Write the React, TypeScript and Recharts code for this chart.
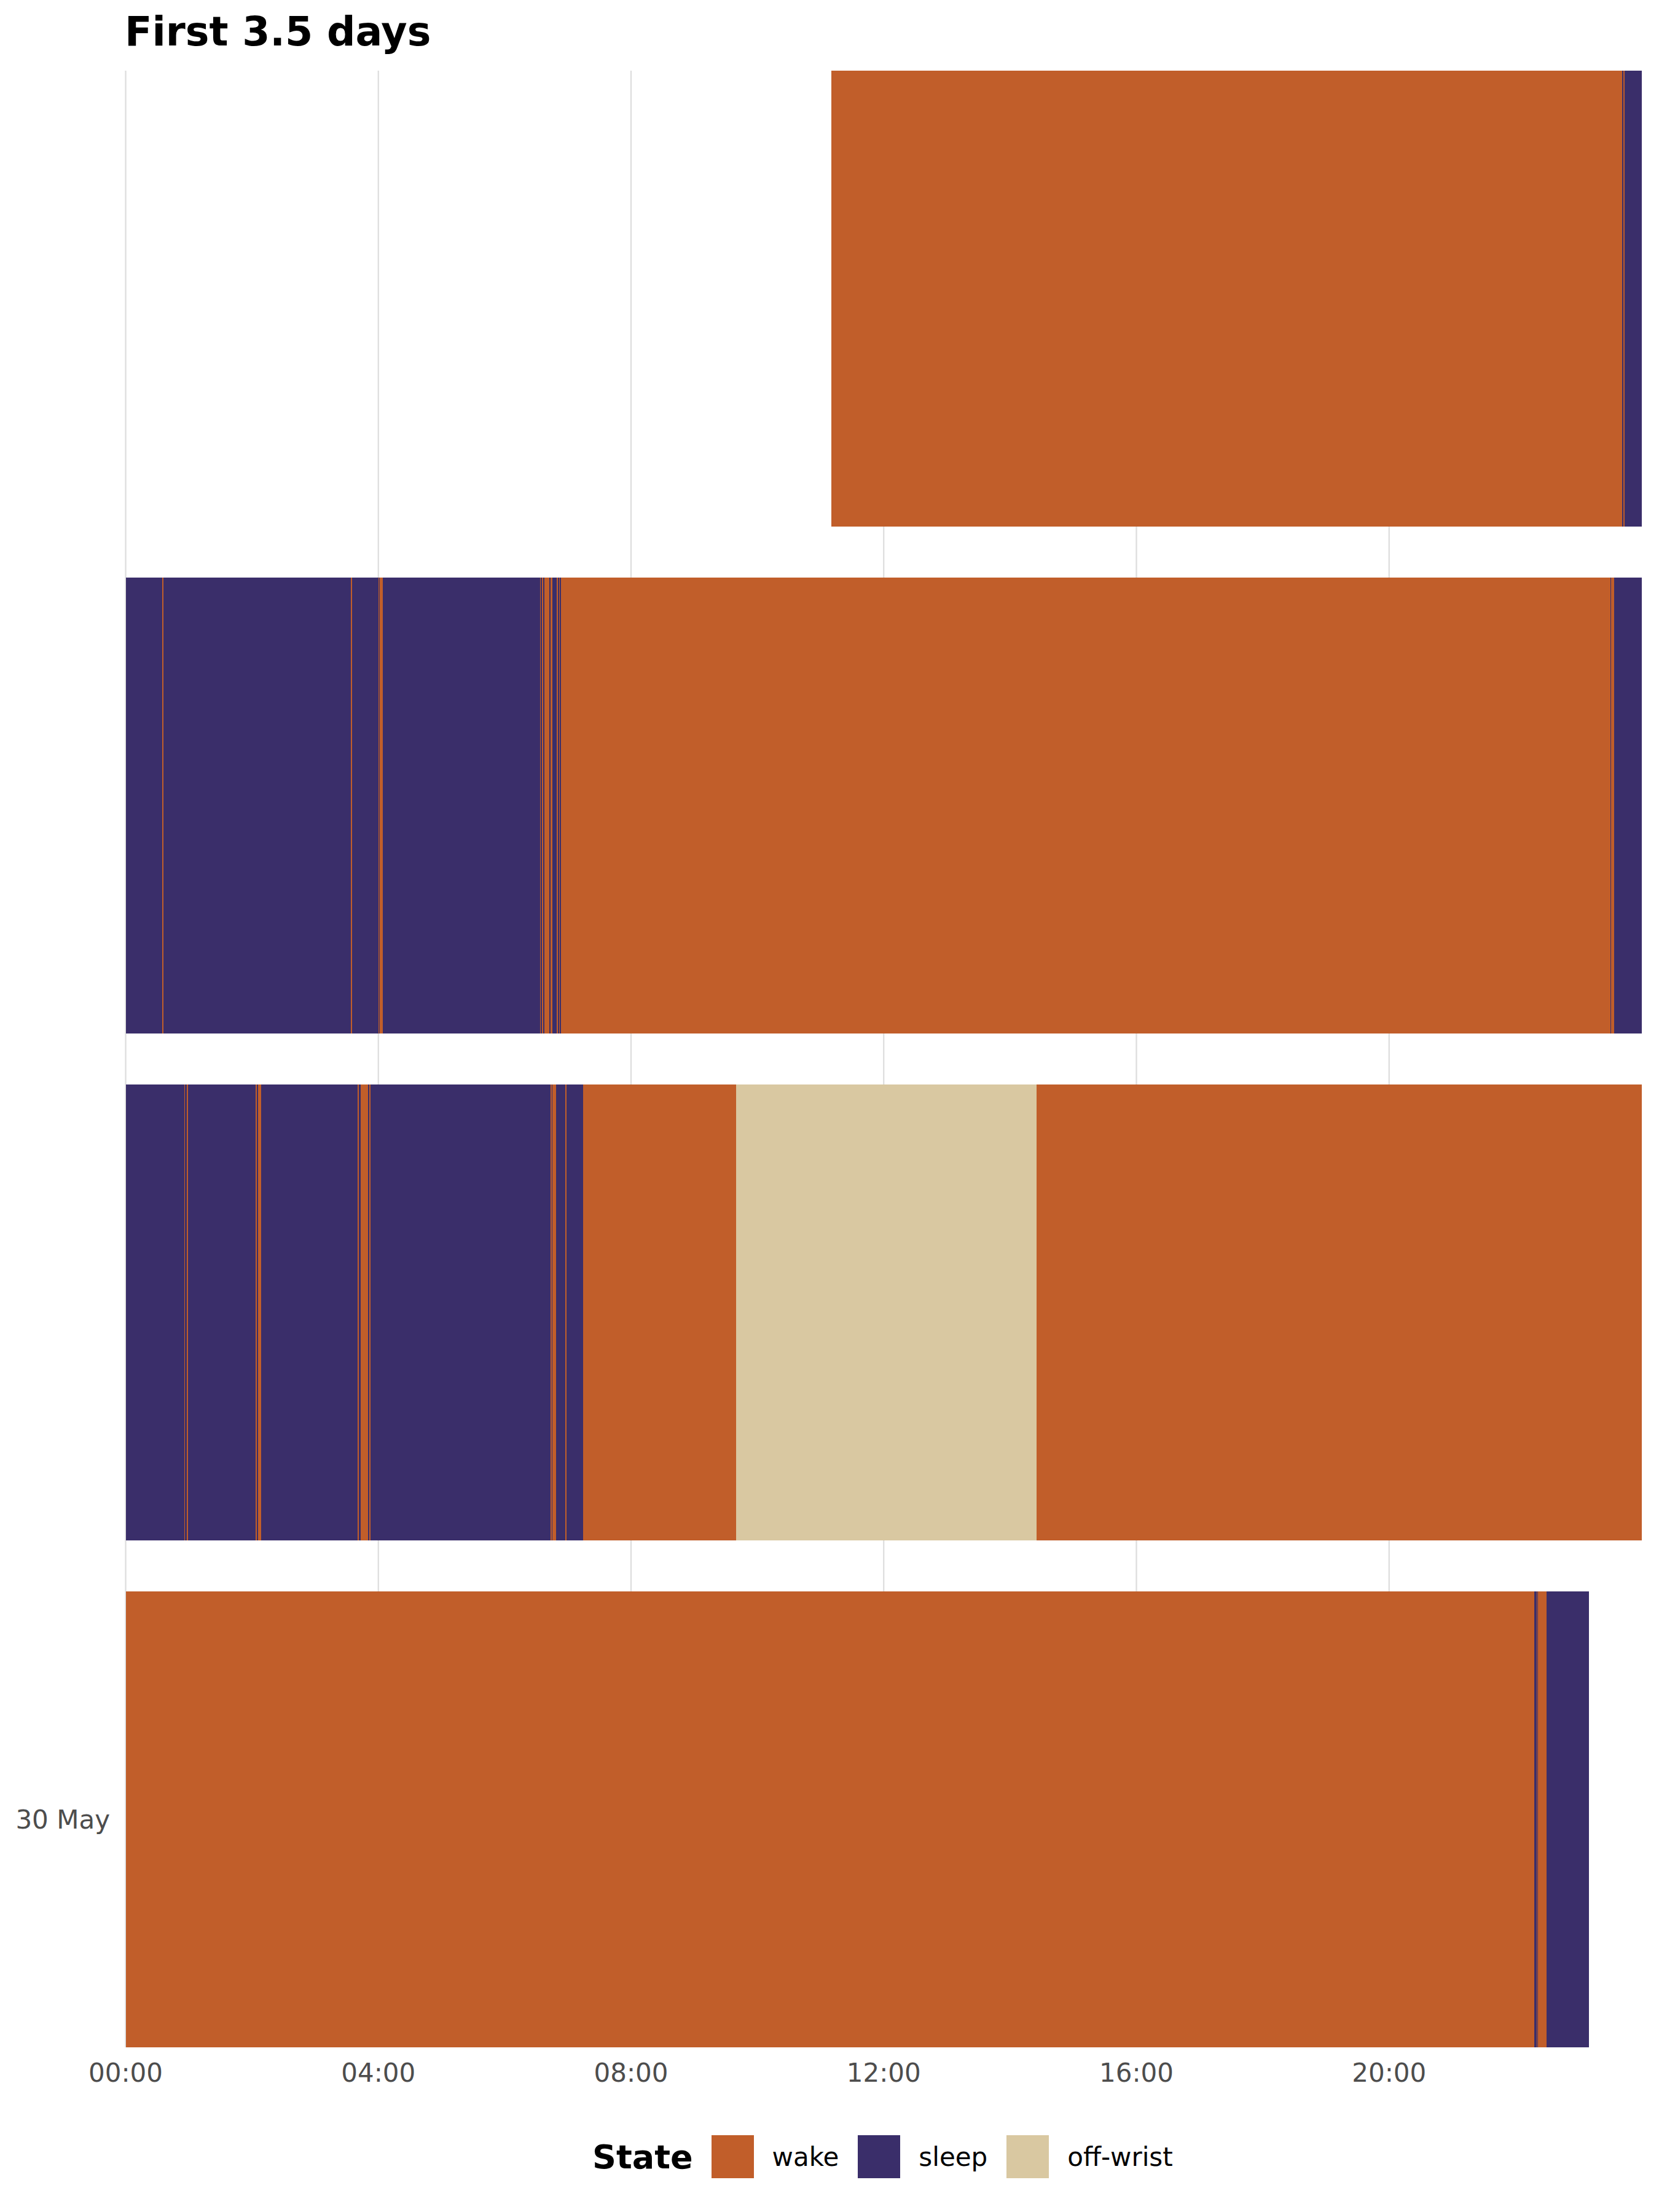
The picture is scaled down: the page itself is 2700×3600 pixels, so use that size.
import { BarChart, Bar, XAxis, YAxis, CartesianGrid, Cell, Legend } from 'recharts';

const FONT = '"DejaVu Sans", Verdana, sans-serif';

const days = ['27 May', '28 May', '29 May', '30 May'];
const labelledDays = ['30 May'];
const hourTicks = [0, 240, 480, 720, 960, 1200];

const stateNames = ['wake', 'sleep', 'off-wrist'];
const stateColors = ['#C15E2A', '#3A2E6A', '#D9C8A1'];

// change points in minutes after midnight, last value = end of the record that day
const day1Times = [670, 1421.5, 1422.5, 1423.5, 1440];
const day1States = ['wake', 'sleep', 'wake', 'sleep'];

const day2Times = [0, 35, 36, 214, 215, 240, 241, 241.5, 244, 393.5, 394.5, 395.5, 396.5, 397.5, 402.5, 403.5, 405.5, 409.5, 410.5, 412, 412.5, 413.5, 1410, 1411, 1414, 1440];
const day2States = ['sleep', 'wake', 'sleep', 'wake', 'sleep', 'wake', 'sleep', 'wake', 'sleep', 'wake', 'sleep', 'wake', 'sleep', 'wake', 'sleep', 'wake', 'sleep', 'wake', 'sleep', 'wake', 'sleep', 'wake', 'sleep', 'wake', 'sleep'];

const day3Times = [0, 55.5, 56.5, 58, 59.5, 123.5, 124.5, 125.5, 128.5, 220.5, 221.5, 223, 230, 231.5, 232.5, 403.5, 404.5, 405.5, 409, 417.5, 419, 434.5, 580, 865, 1440];
const day3States = ['sleep', 'wake', 'sleep', 'wake', 'sleep', 'wake', 'sleep', 'wake', 'sleep', 'wake', 'sleep', 'wake', 'sleep', 'wake', 'sleep', 'wake', 'sleep', 'wake', 'sleep', 'wake', 'sleep', 'wake', 'off-wrist', 'wake'];

const day4Times = [0, 1338, 1340, 1341, 1341.5, 1349.5, 1390];
const day4States = ['wake', 'sleep', 'wake', 'sleep', 'wake', 'sleep'];

const allTimes = [day1Times, day2Times, day3Times, day4Times];
const allStates = [day1States, day2States, day3States, day4States];

type Seg = { len: number; state: string | null };

function segmentsOf(times: number[], states: string[]): Seg[] {
  const segs: Seg[] = [];
  if (times[0] > 0) segs.push({ len: times[0], state: null }); // nothing recorded yet
  states.forEach((s, i) => segs.push({ len: times[i + 1] - times[i], state: s }));
  return segs;
}

const rowSegs = allTimes.map((t, i) => segmentsOf(t, allStates[i]));
const maxSegs = Math.max(...rowSegs.map((s) => s.length));

const data = days.map((day, r) => {
  const row: Record<string, any> = { day };
  rowSegs[r].forEach((s, i) => {
    row[`s${i}`] = s.len;
  });
  return row;
});

const colorOf = (state: string | null | undefined) =>
  state ? stateColors[stateNames.indexOf(state)] : 'none';

const clock = (m: number) =>
  `${String(Math.floor(m / 60)).padStart(2, '0')}:${String(m % 60).padStart(2, '0')}`;

function StateLegend() {
  return (
    <div style={{ display: 'flex', alignItems: 'center', height: 70, fontFamily: FONT }}>
      <span style={{ fontSize: 54, fontWeight: 'bold', color: '#000', marginRight: 30 }}>State</span>
      {stateNames.map((name, i) => (
        <div key={name} style={{ display: 'flex', alignItems: 'center' }}>
          <div style={{ width: 69, height: 70, background: stateColors[i], marginRight: 30 }} />
          <span style={{ fontSize: 42, color: '#000', marginRight: 31 }}>{name}</span>
        </div>
      ))}
    </div>
  );
}

export default function App() {
  return (
    <div style={{ position: 'absolute', left: 0, top: 0, width: 2700, height: 3600, background: '#fff', fontFamily: FONT }}>
      <div style={{ position: 'absolute', left: 203, top: 19, fontSize: 65, lineHeight: '65px', fontWeight: 'bold', color: '#000' }}>
        First 3.5 days
      </div>
      <BarChart
        width={2700}
        height={3600}
        data={data}
        layout="vertical"
        barCategoryGap={41.5}
        margin={{ top: 115, right: 28, bottom: 208, left: 0 }}
        style={{ fontFamily: FONT }}
      >
        <CartesianGrid horizontal={false} verticalValues={hourTicks} stroke="#DEDEDE" strokeWidth={2.3} />
        <XAxis
          type="number"
          domain={[0, 1440]}
          ticks={hourTicks}
          tickFormatter={clock}
          axisLine={false}
          tickLine={false}
          tickSize={0}
          tickMargin={26}
          height={60}
          tick={{ fontSize: 42, fill: '#4D4D4D', fontFamily: FONT }}
        />
        <YAxis
          type="category"
          dataKey="day"
          width={204.5}
          axisLine={false}
          tickLine={false}
          tickSize={0}
          tickMargin={25.5}
          padding={{ top: -41.5, bottom: -41.5 }}
          tickFormatter={(v: string) => (labelledDays.includes(v) ? v : '')}
          tick={{ fontSize: 42, fill: '#4D4D4D', fontFamily: FONT }}
        />
        {Array.from({ length: maxSegs }, (_, i) => (
          <Bar key={i} dataKey={`s${i}`} stackId="day" isAnimationActive={false} shapeRendering="crispEdges">
            {data.map((_, r) => (
              <Cell key={r} fill={colorOf(rowSegs[r][i]?.state)} />
            ))}
          </Bar>
        ))}
        <Legend
          verticalAlign="middle"
          align="center"
          wrapperStyle={{ top: 3475, left: 964, width: 1100 }}
          content={() => <StateLegend />}
        />
      </BarChart>
    </div>
  );
}
